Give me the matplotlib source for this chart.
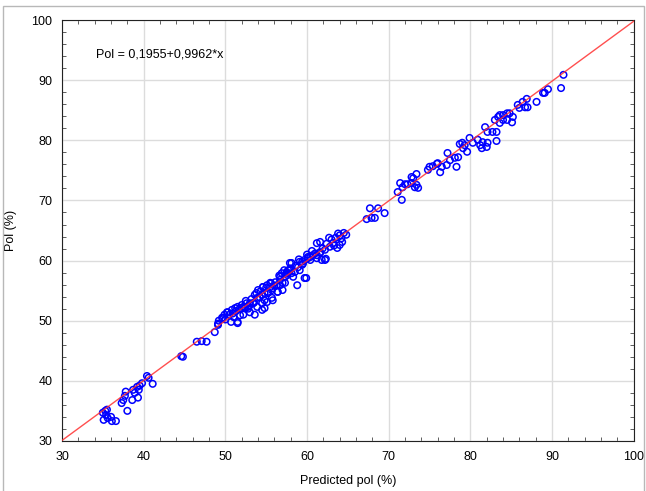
import matplotlib
matplotlib.use('Agg')
from matplotlib import pyplot as plt
from matplotlib.ticker import MultipleLocator
from matplotlib.patches import Rectangle

plt.rcParams['font.family'] = ['Liberation Sans', 'DejaVu Sans']

pred_low = [35.3, 35.5, 35.0, 35.4, 35.1, 35.6, 36.1, 36.6, 36.0, 38.0, 37.3, 37.5, 37.7,
            37.8, 38.6, 39.3, 38.7, 39.2, 39.5, 39.8, 40.4, 40.6, 41.1, 38.9, 39.4]
pol_low = [35.0, 35.2, 34.7, 34.3, 33.5, 33.8, 33.3, 33.3, 34.0, 35.0, 36.3, 36.8, 37.5,
           38.2, 36.8, 37.2, 38.5, 39.0, 39.2, 39.6, 40.8, 40.5, 39.5, 38.0, 38.5]

pred_mid = [44.6, 44.8, 46.5, 47.1, 47.7, 48.7, 49.1, 49.1, 49.6, 49.7,
            49.2, 49.9, 50.3, 50.8, 51.2, 51.5, 52.0, 52.6, 53.0, 51.5, 53.6, 53.0, 52.4,
            50.2, 51.5, 52.2, 52.0, 52.4, 52.8, 53.0, 54.5, 53.9, 54.5, 54.8, 54.6, 55.5,
            55.2, 55.7, 55.8, 56.4, 57.0, 56.7, 57.3, 56.7, 57.5, 57.9, 58.1, 58.8, 59.7,
            59.1, 59.4, 60.4, 60.1, 61.2, 61.6, 62.2,
            53.6, 54.0, 54.2, 54.6, 54.8, 55.1, 55.2, 55.5, 55.7, 55.8, 56.1, 56.3, 56.4,
            56.7, 56.9, 57.0, 57.3, 57.5, 57.7, 57.9, 58.1, 58.3, 58.5, 58.9, 59.1, 59.4,
            59.9, 59.7, 60.1, 60.4, 60.7, 61.2, 61.6, 61.8, 62.3, 62.2, 62.8, 63.2, 63.7,
            64.0, 64.3, 61.2, 61.6, 53.4, 53.9, 54.5, 55.1, 54.8,
            64.5, 64.0, 63.5, 63.0, 62.7, 64.2, 64.8, 63.8, 62.4, 61.9, 63.3,
            50.5, 50.9, 51.3, 51.7, 52.2, 51.0, 50.0, 52.5, 53.2, 53.5, 52.8, 51.8, 50.7,
            53.8, 54.3, 55.0, 55.6, 56.0, 56.6, 57.2, 57.6, 58.0, 58.6, 59.0, 59.5, 60.0,
            60.6, 61.0]
pol_mid = [44.1, 44.0, 46.5, 46.6, 46.5, 48.1, 49.3, 49.5, 50.5, 50.4,
           50.0, 51.0, 51.4, 51.8, 52.1, 52.3, 52.6, 52.9, 52.9, 49.6, 51.0, 51.4, 52.1,
           51.4, 49.8, 51.0, 52.1, 52.3, 52.3, 52.6, 51.8, 53.8, 54.3, 54.6, 55.6, 55.6,
           54.8, 53.8, 53.4, 54.8, 55.1, 55.9, 56.3, 57.3, 57.9, 58.4, 59.6, 55.9, 57.1,
           58.4, 59.8, 60.1, 60.6, 60.9, 61.4, 60.1,
           54.3, 55.1, 53.9, 55.6, 53.4, 55.9, 54.6, 56.3, 55.1, 55.4, 56.4, 55.9, 54.8,
           56.8, 57.9, 56.3, 57.3, 58.1, 58.4, 59.6, 57.9, 57.3, 58.1, 58.9, 59.8, 59.3,
           57.1, 60.1, 60.4, 60.6, 60.9, 60.4, 61.3, 60.1, 60.3, 61.8, 62.3, 62.9, 62.1,
           62.6, 63.1, 62.9, 63.1, 52.9, 52.3, 52.9, 53.1, 52.1,
           64.6, 64.2, 63.8, 63.5, 63.8, 63.7, 64.3, 64.5, 62.8, 62.0, 62.5,
           51.0, 51.2, 51.6, 51.9, 52.3, 50.6, 50.2, 53.3, 53.6, 53.0, 52.0, 50.9, 49.8,
           54.6, 54.9, 55.5, 56.2, 55.8, 57.5, 58.4, 57.6, 58.7, 59.1, 60.2, 59.5, 61.0,
           61.6, 61.2]

pred_high = [67.7, 68.7, 69.5, 67.9, 67.3, 68.3,
             71.1, 71.6, 71.4, 72.0, 71.7, 72.3, 72.8, 73.0, 73.4, 72.8, 73.2, 73.6, 73.4,
             74.8, 75.0, 75.4, 75.9, 76.3, 76.0, 76.5, 77.1, 77.2, 77.5, 78.1, 78.3, 78.5,
             78.7, 79.3, 79.6, 79.1,
             79.0, 79.9, 80.3, 80.9, 81.2, 81.4, 81.5, 82.0, 82.1, 83.2, 81.8, 82.1, 82.7,
             83.2, 83.0, 83.4, 83.6, 84.0, 84.5, 84.8, 84.5, 85.1, 85.2, 86.0, 85.8, 86.4,
             86.9, 87.0, 86.7, 88.1, 83.6, 84.0,
             89.1, 89.5, 88.9, 91.1, 91.4]
pol_high = [68.7, 68.7, 67.9, 67.1, 66.9, 67.1,
            71.4, 70.1, 72.9, 72.7, 72.2, 72.7, 72.9, 73.7, 74.4, 73.9, 72.2, 72.1, 72.6,
            75.1, 75.6, 75.7, 76.1, 74.7, 76.2, 75.6, 75.9, 77.9, 76.7, 77.1, 75.6, 77.2,
            79.4, 79.2, 78.1, 78.7,
            79.6, 80.4, 79.6, 80.1, 79.2, 78.7, 79.7, 78.9, 79.6, 79.9, 82.2, 81.4, 81.4,
            81.4, 83.4, 83.9, 84.2, 84.2, 84.5, 84.5, 83.4, 83.0, 83.9, 85.4, 85.9, 86.4,
            86.9, 85.5, 85.5, 86.4, 82.9, 83.4,
            87.9, 88.5, 87.9, 88.7, 90.9]

pred = pred_low + pred_mid + pred_high
pol = pol_low + pol_mid + pol_high

intercept = 0.1955
slope = 0.9962
line_x = [30, 100]
line_y = [intercept + slope * v for v in line_x]

fig = plt.figure(figsize=(6.46, 4.91), dpi=100)
ax = fig.add_axes([0.096, 0.102, 0.885, 0.857])

ax.scatter(pred, pol, s=22, facecolors='none', edgecolors='#0000ff', linewidths=1.1, zorder=3)
ax.plot(line_x, line_y, color='#ff3030', linewidth=1.0, alpha=0.85, zorder=4)

ax.set_xlim(30, 100)
ax.set_ylim(30, 100)
ax.xaxis.set_major_locator(MultipleLocator(10))
ax.yaxis.set_major_locator(MultipleLocator(10))
ax.xaxis.set_minor_locator(MultipleLocator(2))
ax.yaxis.set_minor_locator(MultipleLocator(2))
ax.grid(True, which='major', color='#dcdcdc', linewidth=1.0)
ax.set_axisbelow(True)
ax.tick_params(which='both', direction='in', top=True, right=True, labelsize=9, color='#444444')
ax.tick_params(which='major', length=0, pad=7)
ax.tick_params(which='minor', length=3)
for s in ax.spines.values():
    s.set_color('#222222')

ax.text(34.2, 94.2, 'Pol = 0,1955+0,9962*x', fontsize=9, va='center', ha='left')
ax.set_xlabel('Predicted pol (%)', fontsize=9, labelpad=9)
ax.set_ylabel('Pol (%)', fontsize=9, labelpad=10)

fig.patches.append(Rectangle((0.005, -0.01), 0.992, 0.998, transform=fig.transFigure,
                             fill=False, edgecolor='#b8b8b8', linewidth=1.0))

plt.savefig('out.png', dpi=100)
